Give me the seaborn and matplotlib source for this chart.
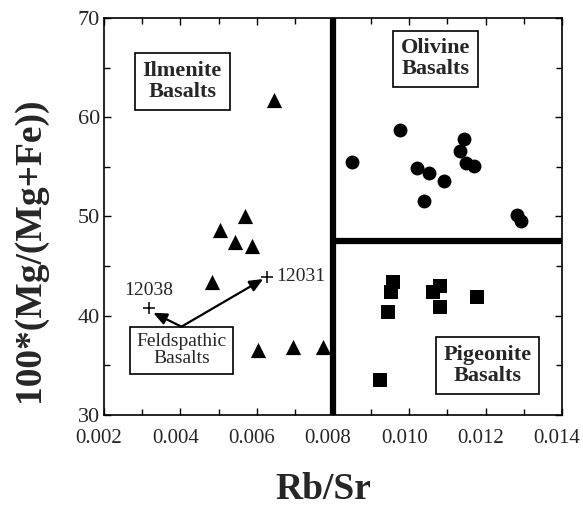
import matplotlib
matplotlib.use("Agg")
import matplotlib.pyplot as plt
import seaborn as sns
from matplotlib.ticker import MultipleLocator, FormatStrFormatter
from matplotlib.transforms import ScaledTranslation

# Ilmenite basalts
ilm_rbsr = [0.00645, 0.0057, 0.00505, 0.00543, 0.00587, 0.00483, 0.00603, 0.00695, 0.00774]
ilm_mg = [61.7, 50.0, 48.6, 47.4, 47.0, 43.4, 36.5, 36.9, 36.9]

# Olivine basalts
oli_rbsr = [0.0085, 0.00975, 0.01021, 0.01051, 0.01038, 0.01091, 0.01142, 0.01134,
            0.01149, 0.01169, 0.01283, 0.01293]
oli_mg = [55.5, 58.7, 54.9, 54.4, 51.6, 53.6, 57.8, 56.6, 55.4, 55.1, 50.2, 49.5]

# Pigeonite basalts
pig_rbsr = [0.00957, 0.00953, 0.00944, 0.00922, 0.0108, 0.01062, 0.0108, 0.01177]
pig_mg = [43.4, 42.4, 40.4, 33.5, 43.0, 42.4, 40.9, 41.9]

# Feldspathic basalts
fel_names = ["12038", "12031"]
fel_rbsr = [0.00319, 0.00627]
fel_mg = [40.8, 43.95]

# Group boundaries
rbsr_split = 0.008
mg_split = 47.5

sns.set_style("ticks")
plt.rcParams["font.family"] = ["Liberation Serif", "DejaVu Serif"]

fig = plt.figure(figsize=(5.83, 5.07), dpi=100)
ax = fig.add_axes([104 / 583, 1 - 415 / 507, (562 - 104) / 583, (415 - 18) / 507])

# Division lines between the basalt groups
ax.axvline(rbsr_split, color="black", lw=4.5, zorder=1)
ax.plot([rbsr_split, 0.014], [mg_split, mg_split], color="black", lw=4.5,
        solid_capstyle="butt", zorder=1)

sns.scatterplot(x=ilm_rbsr, y=ilm_mg, marker="^", s=120, color="black",
                edgecolor="black", linewidth=0, ax=ax, zorder=3)
sns.scatterplot(x=oli_rbsr, y=oli_mg, marker="o", s=100, color="black",
                edgecolor="black", linewidth=0, ax=ax, zorder=3)
sns.scatterplot(x=pig_rbsr, y=pig_mg, marker="s", s=100, color="black",
                edgecolor="black", linewidth=0, ax=ax, zorder=3)
sns.scatterplot(x=fel_rbsr, y=fel_mg, marker="+", s=70, color="black",
                linewidth=1.1, ax=ax, zorder=3)

ax.text(fel_rbsr[0] - 0.00002, fel_mg[0] + 0.9, fel_names[0], ha="center",
        va="bottom", fontsize=14)
ax.text(fel_rbsr[1] + 0.00025, fel_mg[1], fel_names[1], ha="left",
        va="center", fontsize=14)

box_bold = dict(boxstyle="square,pad=0.35", fc="white", ec="black", lw=1.2)
ax.text(0.00405, 63.6, "Ilmenite\nBasalts", ha="center", va="center",
        fontsize=16, fontweight="bold", linespacing=1.05, bbox=box_bold)
ax.text(0.01068, 65.9, "Olivine\nBasalts", ha="center", va="center",
        fontsize=16, fontweight="bold", linespacing=1.05, bbox=box_bold)
ax.text(0.01205, 35.0, "Pigeonite\nBasalts", ha="center", va="center",
        fontsize=16, fontweight="bold", linespacing=1.05, bbox=box_bold)
ax.text(0.00403, 36.5, "Feldspathic\nBasalts", ha="center", va="center",
        fontsize=14, linespacing=1.0,
        bbox=dict(boxstyle="square,pad=0.35", fc="white", ec="black", lw=1.2))

arrow = dict(arrowstyle="-|>,head_length=0.8,head_width=0.35", color="black",
             lw=1.6, shrinkA=0, shrinkB=0)
ax.annotate("", xy=(0.00329, 40.3), xytext=(0.00403, 38.9), arrowprops=arrow)
ax.annotate("", xy=(0.00617, 43.7), xytext=(0.00403, 38.9), arrowprops=arrow)

ax.set_xlim(0.002, 0.014)
ax.set_ylim(30, 70)
ax.xaxis.set_major_locator(MultipleLocator(0.002))
ax.xaxis.set_minor_locator(MultipleLocator(0.001))
ax.yaxis.set_major_locator(MultipleLocator(10))
ax.yaxis.set_minor_locator(MultipleLocator(5))
ax.xaxis.set_major_formatter(FormatStrFormatter("%.3f"))
ax.tick_params(which="both", direction="in", top=True, right=True,
               width=1.0, color="black")
ax.tick_params(axis="x", labelsize=15, pad=10)
ax.tick_params(axis="y", labelsize=16, pad=3)
ax.tick_params(which="major", length=5)
ax.tick_params(which="minor", length=4)
shift = ScaledTranslation(-5 / 100, 0, fig.dpi_scale_trans)
for lab in ax.get_xticklabels():
    lab.set_transform(lab.get_transform() + shift)
for sp in ax.spines.values():
    sp.set_linewidth(1.2)
    sp.set_color("black")

fig.text(323 / 583, 1 - 499 / 507, "Rb/Sr", ha="center", va="baseline",
         fontsize=27, fontweight="bold")
fig.text(30 / 583, 1 - 250 / 507, "100*(Mg/(Mg+Fe))", ha="center", va="center",
         rotation=90, fontsize=27, fontweight="bold")

fig.savefig("out.png", dpi=100)
